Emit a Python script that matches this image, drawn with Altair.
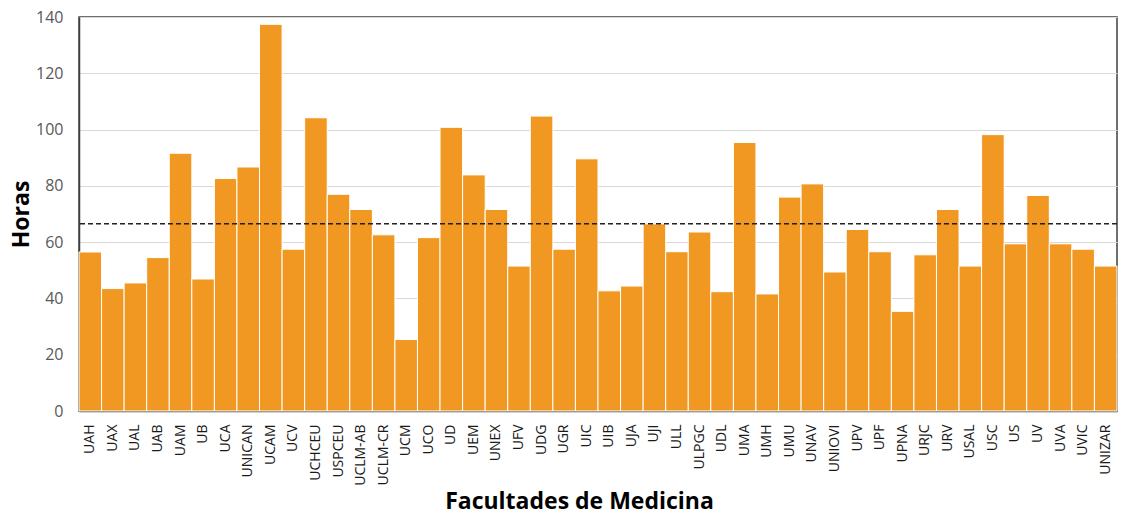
import altair as alt
import pandas as pd

facultades = ["UAH", "UAX", "UAL", "UAB", "UAM", "UB", "UCA", "UNICAN", "UCAM", "UCV",
              "UCHCEU", "USPCEU", "UCLM-AB", "UCLM-CR", "UCM", "UCO", "UD", "UEM", "UNEX", "UFV",
              "UDG", "UGR", "UIC", "UIB", "UJA", "UJI", "ULL", "ULPGC", "UDL", "UMA",
              "UMH", "UMU", "UNAV", "UNIOVI", "UPV", "UPF", "UPNA", "URJC", "URV", "USAL",
              "USC", "US", "UV", "UVA", "UVIC", "UNIZAR"]
horas = [56.5, 43.5, 45.5, 54.5, 91.6, 46.9, 82.6, 86.7, 137.4, 57.5,
         104.2, 77.0, 71.6, 62.6, 25.4, 61.6, 100.8, 83.9, 71.6, 51.5,
         104.8, 57.5, 89.6, 42.7, 44.4, 66.5, 56.6, 63.6, 42.4, 95.4,
         41.6, 76.0, 80.7, 49.4, 64.5, 56.6, 35.4, 55.5, 71.6, 51.5,
         98.2, 59.4, 76.6, 59.4, 57.5, 51.5]

df = pd.DataFrame({"Facultad": facultades, "Horas": horas})

FONT = "Open Sans"

x = alt.X("Facultad:N", sort=facultades,
          scale=alt.Scale(paddingInner=0, paddingOuter=0),
          axis=alt.Axis(title="Facultades de Medicina", labelAngle=-90,
                        labelFontSize=14, labelColor="#1a1a1a", labelFont=FONT,
                        labelPadding=13, ticks=False, domainColor="#404040",
                        domainWidth=1.5, titleFontSize=23, titleFont=FONT,
                        titleFontWeight="bold", titleColor="#000000",
                        titleX=500, titlePadding=5))
y = alt.Y("Horas:Q",
          scale=alt.Scale(domain=[0, 140], nice=False),
          axis=alt.Axis(title="Horas", values=[0, 20, 40, 60, 80, 100, 120, 140],
                        labelFontSize=16, labelColor="#595959", labelFont=FONT,
                        labelPadding=16, ticks=False, grid=True, gridColor="#d9d9d9",
                        gridWidth=1, domainColor="#404040", domainWidth=1.5,
                        titleFontSize=23, titleFont=FONT, titleFontWeight="bold",
                        titleColor="#000000", titlePadding=2))

bars = alt.Chart(df).mark_bar(color="#F19822", stroke="#ffffff", strokeWidth=1).encode(
    x=x, y=y)

mean_line = alt.Chart(df).mark_rule(color="#222222", strokeDash=[5, 3], strokeWidth=1.5).encode(
    y=alt.Y("mean(Horas):Q"))

chart = alt.layer(bars, mean_line).properties(
    width=1038, height=394,
    padding={"top": 1, "left": 2, "right": 0, "bottom": 0}
).configure_view(stroke="#404040", strokeWidth=1.5)

chart.save("out.html", embed_options={"renderer": "svg", "actions": False})
